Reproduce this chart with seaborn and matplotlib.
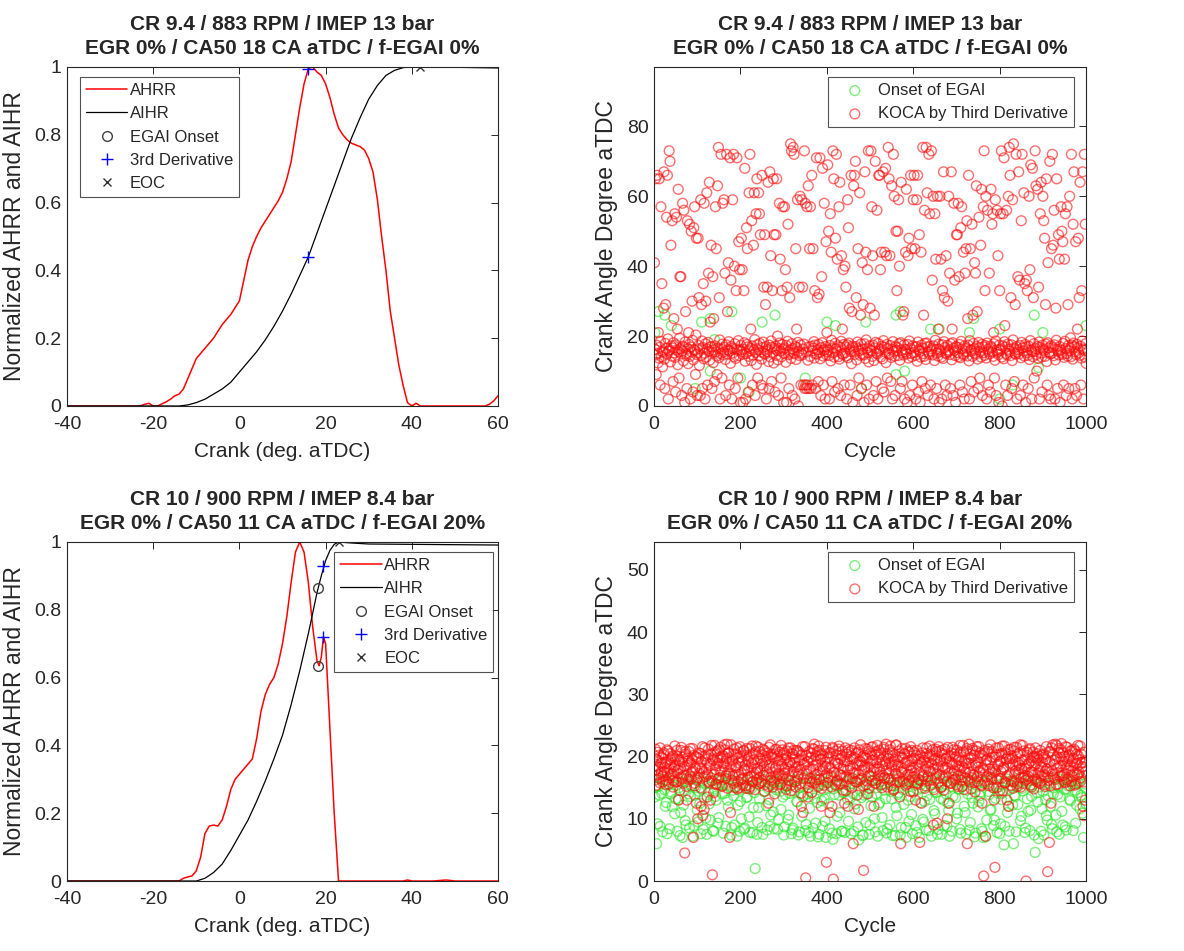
import matplotlib
matplotlib.use("Agg")
import matplotlib.pyplot as plt
import numpy as np
import seaborn as sns

sns.set_style("white")
plt.rcParams["font.family"] = ["Liberation Sans", "DejaVu Sans"]
plt.rcParams["axes.unicode_minus"] = False
plt.rcParams["text.color"] = "0.15"
plt.rcParams["axes.labelcolor"] = "0.15"
plt.rcParams["xtick.color"] = "0.15"
plt.rcParams["ytick.color"] = "0.15"

# ---------------- top-left: heat release curves (case 1) ----------------
ahrr1_x = [-40, -23, -22, -21, -20, -19, -18, -17, -16, -15, -14, -13, -12, -11, -10, -9, -8, -7, -6, -5,
           -4, -3, -2, -1, 0, 1, 2, 3, 4, 5, 6, 7, 8, 9, 10, 11, 12, 13, 14, 15, 16, 17, 18, 19, 20,
           21, 22, 23, 24, 25, 26, 27, 28, 29, 30, 31, 32, 33, 34, 35, 36, 37, 38, 39, 40, 41, 42, 43,
           57, 58, 59, 60]
ahrr1_y = [0, 0, 0.005, 0.008, 0.0, 0.0, 0.006, 0.012, 0.02, 0.03, 0.035, 0.05, 0.08, 0.11, 0.14,
           0.155, 0.17, 0.185, 0.2, 0.22, 0.24, 0.255, 0.27, 0.29, 0.31, 0.37, 0.43, 0.47, 0.5, 0.525,
           0.545, 0.565, 0.585, 0.605, 0.63, 0.67, 0.72, 0.8, 0.88, 0.95, 0.995, 1.0, 0.985, 0.975, 0.95,
           0.91, 0.86, 0.82, 0.8, 0.785, 0.775, 0.77, 0.765, 0.755, 0.73, 0.69, 0.61, 0.5, 0.4, 0.28,
           0.2, 0.12, 0.06, 0.01, 0.0, 0.008, 0.0, 0.0, 0.0, 0.005, 0.015, 0.03]
aihr1_x = [-40, -14, -12, -10, -8, -6, -4, -2, 0, 2, 4, 6, 8, 10, 12, 14, 16, 18, 20, 22, 24, 26, 28,
           30, 32, 34, 36, 38, 40, 45, 50, 55, 60]
aihr1_y = [0, 0, 0.003, 0.01, 0.02, 0.035, 0.05, 0.07, 0.1, 0.13, 0.16, 0.195, 0.235, 0.28, 0.33,
           0.385, 0.44, 0.51, 0.58, 0.65, 0.72, 0.79, 0.85, 0.905, 0.945, 0.975, 0.99, 0.998, 1.0,
           1.0, 0.999, 0.998, 0.997]
onset1_x, onset1_y = [], []
deriv1_x, deriv1_y = [16, 16], [0.995, 0.44]
eoc1_x, eoc1_y = [42], [1.0]

# ---------------- bottom-left: heat release curves (case 2) ----------------
ahrr2_x = [-40, -14, -13, -12, -11, -10, -9, -8, -7, -6, -5, -4, -3, -2, -1, 0, 1, 2, 3, 4, 5, 6, 7,
           8, 9, 10, 11, 12, 13, 14, 15, 16, 17, 18, 18.5, 19, 19.5, 20, 21, 22, 23, 38, 39, 40, 45,
           48, 50, 60]
ahrr2_y = [0, 0, 0.008, 0.012, 0.015, 0.03, 0.07, 0.14, 0.162, 0.165, 0.162, 0.18, 0.22, 0.27, 0.3,
           0.315, 0.33, 0.345, 0.36, 0.42, 0.5, 0.55, 0.58, 0.6, 0.64, 0.7, 0.78, 0.88, 0.97, 1.0,
           0.97, 0.88, 0.75, 0.65, 0.635, 0.66, 0.72, 0.7, 0.45, 0.2, 0.0, 0.0, 0.003, 0.0, 0.0,
           0.003, 0.0, 0.0]
aihr2_x = [-40, -10, -8, -6, -4, -2, 0, 2, 4, 6, 8, 10, 12, 14, 16, 18, 19, 20, 21, 22, 23, 26, 30,
           40, 50, 60]
aihr2_y = [0, 0, 0.008, 0.025, 0.05, 0.09, 0.135, 0.18, 0.235, 0.295, 0.36, 0.43, 0.52, 0.62, 0.73,
           0.85, 0.9, 0.945, 0.975, 0.993, 1.0, 0.997, 0.994, 0.993, 0.992, 0.991]
onset2_x, onset2_y = [18.2, 18.2], [0.865, 0.635]
deriv2_x, deriv2_y = [19.5, 19.5], [0.93, 0.72]
eoc2_x, eoc2_y = [23.2], [1.0]

# ---------------- top-right: KOCA per cycle (case 1), cycles 1..1000 ----------------
koca1 = [41, 16.2, 65, 14.6, 9, 17.4, 66, 15.1, 12.3, 21, 13.7, 65, 16.8, 6, 18.5, 57, 14.1, 35, 15.6, 11.2,
         15.3, 28, 67, 13.4, 5, 17.9, 29, 16.5, 54, 14.8, 66, 19.2, 2, 15.7, 73, 16.1, 70, 12.6, 46, 17.2,
         14.3, 53, 16.6, 7, 18.1, 25, 15.2, 55, 13.9, 4, 17.5, 54, 16.0, 22, 11.8, 62, 15.5, 8, 19.4, 37,
         16.4, 37, 14.9, 3, 15.8, 58, 17.1, 12.9, 56, 16.7, 1, 18.3, 27, 15.0, 14.4, 5, 53, 16.3, 12.1, 21,
         17.6, 52, 14.2, 2, 16.9, 50, 15.4, 30, 18.8, 4, 13.2, 51, 16.1, 57, 15.9, 9, 20.3, 48, 14.7, 3,
         15.2, 48, 17.3, 31, 11.6, 16.4, 3, 59, 14.5, 29, 18.6, 5, 16.7, 35, 13.5, 58, 15.1, 2, 17.8, 30,
         14.0, 61, 16.3, 6, 18.2, 38, 15.7, 64, 13.1, 24, 17.0, 46, 16.9, 5, 15.3, 37, 12.4, 25, 16.0, 7,
         17.2, 57, 15.5, 45, 14.3, 9, 63, 16.6, 74, 13.8, 31, 18.9, 2, 15.0, 72, 16.2, 8, 17.7, 58, 14.6,
         15.4, 59, 16.8, 38, 13.3, 3, 17.5, 72, 14.9, 27, 16.1, 41, 18.4, 6, 15.8, 71, 12.2, 36, 17.0, 2,
         16.5, 59, 15.2, 72, 14.1, 40, 17.8, 5, 13.6, 33, 16.3, 71, 15.9, 8, 18.7, 47, 14.4, 39, 16.0, 1,
         17.3, 48, 15.6, 39, 14.8, 1, 16.2, 33, 18.1, 68, 12.8, 2, 15.0, 51, 17.6, 45, 16.9, 4, 14.2, 61,
         15.8, 72, 16.4, 22, 13.0, 53, 17.2, 6, 14.6, 46, 16.0, 61, 19.0, 3, 15.3, 55, 11.9, 65, 17.5, 8,
         16.1, 61, 14.3, 55, 17.9, 49, 15.5, 6, 13.4, 66, 16.7, 5, 18.3, 34, 15.1, 49, 14.8, 29, 17.0, 2,
         15.6, 34, 16.2, 64, 12.7, 5, 17.4, 67, 14.0, 43, 18.6, 7, 16.8, 33, 15.3, 65, 12.3, 49, 16.5, 4,
         17.1, 49, 14.5, 65, 15.9, 20, 13.2, 3, 16.4, 58, 18.0, 42, 15.7, 8, 14.1, 33, 17.6, 57, 16.3, 1,
         15.0, 57, 16.6, 39, 12.5, 17.3, 1, 34, 18.5, 52, 14.7, 5, 15.4, 31, 16.0, 75, 13.6, 73, 17.8, 3,
         16.4, 74, 15.2, 72, 14.9, 2, 17.0, 45, 13.3, 22, 16.7, 59, 18.2, 0, 15.6, 34, 14.4, 60, 17.5, 6,
         15.1, 59, 14.6, 34, 16.3, 6, 17.7, 73, 5, 58, 6, 15.4, 5, 57, 6, 13.1, 63, 16.9, 5, 45,
         14.2, 57, 5, 17.1, 66, 6, 15.8, 45, 16.5, 18.4, 13.7, 33, 17.4, 5, 15.0, 71, 14.8, 31, 16.1, 7,
         17.6, 32, 15.3, 71, 13.5, 3, 16.7, 37, 18.1, 68, 14.3, 6, 15.9, 58, 16.2, 2, 17.0, 47, 14.6, 21,
         15.5, 69, 16.0, 50, 14.4, 2, 17.3, 55, 12.9, 44, 18.8, 7, 16.6, 73, 15.2, 65, 14.0, 4, 17.9, 48,
         16.3, 72, 15.7, 42, 17.2, 5, 14.1, 57, 13.4, 64, 16.8, 3, 18.5, 43, 15.0, 22, 14.7, 39, 17.6, 6,
         15.2, 40, 16.9, 34, 14.3, 2, 17.5, 59, 13.8, 51, 18.0, 28, 16.1, 6, 15.6, 66, 12.1, 27, 17.1, 1,
         16.7, 63, 15.4, 66, 14.8, 70, 17.0, 31, 13.2, 3, 18.3, 45, 16.4, 8, 15.9, 61, 14.5, 26, 17.7, 5,
         15.0, 41, 16.2, 29, 14.6, 1, 17.8, 67, 13.6, 44, 18.9, 6, 16.5, 39, 15.3, 73, 12.6, 2, 17.2, 28,
         16.0, 73, 15.8, 57, 14.2, 43, 17.4, 3, 13.0, 26, 16.6, 70, 18.2, 7, 15.1, 56, 14.9, 2, 17.9, 66,
         15.7, 66, 16.3, 39, 14.0, 44, 17.1, 5, 13.5, 67, 18.7, 4, 16.8, 44, 15.4, 68, 12.4, 43, 17.6, 8,
         16.5, 74, 15.1, 65, 14.7, 43, 17.3, 7, 13.9, 63, 16.2, 2, 18.4, 72, 15.6, 60, 14.3, 3, 17.0, 50,
         15.9, 33, 16.7, 50, 14.4, 59, 17.8, 40, 13.1, 5, 18.1, 64, 16.0, 7, 15.2, 26, 14.6, 27, 17.5, 2,
         16.2, 44, 15.5, 62, 14.9, 1, 17.6, 43, 13.7, 48, 18.6, 3, 16.4, 66, 15.0, 45, 14.1, 6, 17.2, 59,
         15.3, 66, 16.8, 45, 14.5, 2, 17.0, 59, 12.8, 66, 18.3, 4, 16.1, 49, 15.7, 1, 14.0, 44, 17.4, 7,
         16.6, 74, 15.0, 26, 14.2, 56, 17.9, 5, 13.3, 74, 18.0, 61, 16.9, 3, 15.4, 72, 14.8, 55, 17.1, 6,
         15.8, 73, 16.4, 36, 14.6, 60, 17.2, 2, 13.0, 55, 18.8, 42, 16.2, 5, 15.1, 60, 14.3, 22, 17.7, 1,
         16.1, 60, 15.6, 42, 14.0, 2, 17.5, 33, 13.6, 67, 18.4, 31, 16.7, 6, 15.2, 43, 14.9, 3, 17.3, 30,
         15.5, 60, 16.0, 38, 14.7, 5, 17.8, 67, 13.2, 22, 18.1, 3, 16.5, 58, 15.9, 36, 14.4, 1, 17.0, 49,
         16.8, 49, 15.3, 58, 14.1, 37, 17.6, 6, 13.8, 51, 18.5, 57, 16.3, 4, 15.0, 44, 14.6, 2, 17.2, 38,
         15.6, 45, 16.6, 53, 14.3, 25, 17.4, 66, 12.9, 2, 18.7, 45, 16.0, 7, 15.8, 52, 14.2, 26, 17.9, 4,
         16.4, 41, 15.1, 38, 14.8, 63, 17.0, 27, 13.4, 5, 18.2, 54, 16.7, 8, 15.5, 46, 14.0, 62, 17.6, 3,
         15.2, 57, 16.9, 73, 14.5, 33, 17.3, 60, 13.7, 2, 18.0, 56, 16.2, 6, 15.6, 38, 14.9, 4, 17.1, 62,
         16.7, 52, 15.4, 55, 14.2, 21, 17.8, 8, 13.1, 59, 18.6, 3, 16.0, 56, 15.3, 43, 14.7, 1, 17.4, 33,
         15.9, 55, 16.3, 73, 14.0, 0, 17.2, 55, 13.5, 71, 18.4, 23, 16.8, 6, 15.0, 56, 14.6, 3, 17.7, 60,
         16.2, 74, 15.7, 66, 14.4, 31, 17.5, 5, 13.0, 59, 18.9, 75, 16.5, 7, 15.1, 29, 14.8, 72, 17.0, 2,
         15.4, 37, 16.1, 67, 14.9, 36, 17.3, 3, 13.8, 53, 18.2, 72, 16.6, 6, 15.8, 61, 14.3, 35, 17.6, 1,
         16.9, 36, 15.2, 33, 14.5, 5, 17.1, 60, 13.3, 39, 18.7, 69, 16.0, 2, 15.5, 68, 14.1, 31, 17.8, 8,
         15.6, 73, 16.4, 63, 14.7, 10, 17.0, 62, 13.6, 34, 18.3, 2, 16.8, 55, 15.2, 64, 14.0, 4, 17.4, 60,
         16.3, 53, 15.9, 48, 14.2, 29, 17.7, 65, 12.7, 6, 18.1, 41, 16.6, 3, 15.4, 70, 14.9, 2, 17.2, 45,
         15.1, 72, 16.7, 46, 14.4, 56, 17.5, 2, 13.2, 28, 18.8, 65, 16.2, 5, 15.7, 49, 14.6, 42, 17.0, 1,
         16.0, 57, 15.3, 50, 14.8, 47, 17.9, 6, 13.9, 42, 18.5, 55, 16.4, 3, 15.0, 57, 14.3, 29, 17.3, 5,
         15.8, 60, 16.5, 19.5, 14.1, 72, 17.4, 2, 13.4, 52, 18.0, 67, 16.9, 5, 15.5, 47, 14.7, 3, 17.6, 22,
         16.6, 48, 15.2, 31, 14.5, 64, 17.1, 6, 13.7, 33, 18.6, 67, 16.3, 2, 15.9, 72, 14.0, 52, 17.8, 12.2]
# EGAI onset coincides with KOCA for most cycles; only the visible ones are listed
onset1_cyc = [2, 10, 25, 40, 95, 110, 130, 130, 140, 180, 200, 220, 250, 280, 350, 400, 420, 480,
              490, 560, 560, 570, 580, 640, 660, 730, 740, 800, 800, 830, 880, 890, 900, 1000]
onset1_val = [21, 27, 26, 23, 5, 24, 25, 10, 19, 27, 8, 4, 24, 26, 8, 24, 23, 5,
              24, 26, 9, 27, 10, 22, 22, 21, 25, 22, 2, 6, 26, 11, 21, 23]

# ---------------- bottom-right: KOCA per cycle (case 2) ----------------
koca2_odd = [18.5, 21.2, 16.3, 19.4, 17.1, 20.2, 15.8, 18.9, 17.6, 19.8,
             16.9, 20.6, 18.2, 15.5, 19.1, 17.4, 20.9, 16.6, 18.7, 19.5,
             17.2, 20.1, 16.1, 18.4, 19.6, 15.9, 21.0, 17.8, 13.0, 19.2,
             18.1, 21.5, 16.4, 19.9, 17.0, 4.5, 20.4, 15.2, 18.6, 19.3,
             20.8, 16.8, 19.0, 17.5, 21.3, 7.0, 15.7, 18.3, 20.0, 16.2,
             10.0, 19.7, 17.3, 20.5, 12.0, 18.0, 10.5, 16.7, 21.4, 19.6,
             17.9, 13.5, 20.3, 16.0, 18.8, 13.0, 21.8, 1.0, 19.4, 17.2,
             20.7, 15.6, 18.5, 19.8, 16.4, 21.1, 17.7, 19.9, 15.3, 20.2,
             18.9, 21.9, 16.5, 19.3, 22.0, 17.6, 20.6, 7.0, 11.0, 18.4,
             19.5, 16.9, 21.2, 15.0, 18.2, 20.4, 14.8, 19.0, 17.1, 21.6,
             16.3, 19.8, 15.4, 20.9, 17.8, 18.6, 14.9, 21.3, 16.7, 19.2,
             20.1, 15.2, 18.3, 21.7, 16.0, 19.5, 14.7, 20.8, 17.4, 18.0,
             21.5, 16.6, 19.7, 15.8, 20.3, 18.9, 17.0, 21.0, 15.5, 19.4,
             17.6, 20.6, 12.5, 18.7, 21.9, 16.2, 19.9, 15.1, 20.4, 14.0,
             18.1, 21.2, 16.8, 19.3, 17.3, 20.7, 15.6, 18.5, 21.1, 16.4,
             19.6, 17.9, 20.2, 15.3, 18.8, 21.4, 16.9, 19.1, 14.5, 20.5,
             17.5, 21.0, 15.9, 19.8, 18.3, 16.1, 20.9, 17.2, 19.4, 15.7,
             12.0, 20.3, 11.0, 18.6, 21.6, 0.5, 17.7, 19.2, 15.0, 20.8,
             16.5, 19.9, 14.2, 21.3, 18.0, 22.0, 15.8, 20.1, 17.1, 18.7,
             21.7, 16.3, 19.5, 12.0, 20.4, 17.9, 15.4, 21.0, 18.4, 3.0,
             19.7, 16.7, 20.6, 11.0, 18.2, 15.1, 21.5, 0.3, 17.4, 19.0,
             20.9, 16.0, 18.9, 21.2, 15.6, 19.6, 17.0, 20.2, 14.6, 18.5,
             12.5, 21.4, 16.8, 19.3, 12.0, 20.7, 15.2, 18.1, 21.0, 16.5,
             6.0, 19.8, 17.3, 20.5, 15.9, 18.6, 11.5, 21.1, 16.2, 19.1,
             17.8, 20.0, 1.7, 18.3, 21.3, 15.5, 19.6, 14.0, 20.8, 17.0,
             18.8, 21.5, 16.1, 19.4, 12.0, 20.3, 15.7, 18.0, 21.8, 16.9,
             19.9, 17.5, 20.6, 15.0, 18.5, 21.2, 16.6, 19.2, 22.0, 17.8,
             20.4, 16.4, 19.0, 21.7, 15.3, 18.7, 20.1, 14.8, 19.5, 17.2,
             21.9, 15.9, 18.4, 20.9, 13.5, 6.0, 17.6, 19.8, 16.0, 20.5,
             18.9, 21.3, 15.6, 19.3, 17.1, 20.7, 14.4, 18.2, 21.0, 16.7,
             19.7, 17.4, 13.0, 20.2, 15.8, 18.6, 16.3, 6.2, 19.1, 12.5,
             20.6, 16.8, 19.4, 14.9, 18.0, 21.4, 16.1, 19.9, 17.7, 20.3,
             15.4, 18.8, 21.1, 9.0, 19.6, 16.5, 20.8, 9.3, 18.3, 21.6,
             17.0, 19.2, 15.1, 20.5, 18.5, 14.6, 21.2, 16.9, 19.7, 10.0,
             18.1, 12.5, 20.1, 15.7, 19.0, 21.5, 17.3, 20.4, 16.4, 18.7,
             21.0, 15.2, 19.5, 17.8, 20.7, 16.2, 18.4, 21.8, 14.7, 19.3,
             17.5, 20.9, 6.0, 18.9, 22.0, 15.9, 19.8, 16.6, 21.3, 17.1,
             20.2, 14.3, 18.6, 21.6, 16.0, 19.1, 17.7, 20.6, 15.5, 12.5,
             18.2, 0.8, 21.0, 7.2, 19.4, 16.8, 20.8, 15.3, 18.0, 21.9,
             16.3, 19.9, 17.4, 13.0, 2.2, 20.3, 15.0, 18.7, 21.4, 16.5,
             19.2, 17.6, 20.5, 14.5, 18.3, 21.7, 15.8, 19.6, 13.0, 20.0,
             12.0, 18.9, 21.2, 16.1, 19.7, 14.9, 20.9, 17.2, 18.5, 21.5,
             15.6, 19.0, 17.9, 20.6, 15.1, 18.1, 21.8, 16.7, 19.5, 17.0,
             0.0, 20.2, 16.4, 18.8, 21.1, 15.4, 19.3, 17.5, 20.7, 14.8,
             18.6, 21.4, 16.0, 19.8, 17.3, 20.1, 15.7, 18.4, 16.9, 19.1,
             20.4, 17.1, 15.2, 19.6, 18.0, 1.5, 16.2, 6.2, 20.8, 12.5,
             17.7, 21.9, 16.6, 19.4, 22.0, 15.5, 20.0, 18.2, 21.3, 16.8,
             19.9, 22.1, 17.4, 20.6, 15.9, 18.7, 21.6, 16.3, 19.2, 17.8,
             20.3, 15.3, 18.5, 21.0, 16.8, 19.7, 17.1, 20.9, 15.6, 18.9,
             21.8, 17.2, 19.5, 16.0, 20.4, 18.3, 12.0, 10.5, 19.0, 17.6]
koca2_even = [17.8, 19.6, 15.4, 20.7, 18.3, 16.5, 21.4, 17.2, 19.0, 15.9,
              20.3, 17.5, 18.8, 16.2, 21.1, 19.3, 15.6, 18.0, 20.5, 16.9,
              19.8, 15.1, 17.6, 21.7, 18.6, 16.0, 20.0, 17.3, 19.4, 14.6,
              21.0, 16.7, 19.1, 15.7, 18.4, 20.8, 17.0, 13.0, 19.7, 16.3,
              18.7, 21.3, 16.4, 19.5, 17.7, 20.2, 15.3, 18.1, 12.5, 19.9,
              16.6, 20.6, 18.2, 15.0, 19.2, 21.6, 17.4, 11.5, 20.1, 16.8,
              19.0, 17.1, 21.2, 15.8, 18.5, 20.4, 16.1, 19.6, 14.2, 21.8,
              17.9, 15.5, 20.9, 18.9, 16.6, 19.4, 21.5, 17.6, 15.2, 20.0,
              18.4, 21.1, 16.9, 19.7, 14.9, 20.6, 17.3, 18.7, 21.9, 16.2,
              19.3, 15.7, 20.3, 17.0, 18.6, 21.4, 16.0, 19.8, 15.0, 20.7,
              17.4, 19.1, 16.5, 21.0, 18.0, 15.3, 20.2, 17.8, 19.5, 14.8,
              21.3, 16.8, 18.9, 15.9, 20.5, 17.2, 19.0, 21.7, 16.3, 18.2,
              15.6, 20.8, 17.7, 19.3, 16.1, 21.2, 18.5, 14.4, 20.0, 17.0,
              19.6, 15.2, 21.5, 18.1, 16.7, 20.3, 17.5, 19.9, 15.8, 21.1,
              18.3, 16.4, 20.1, 17.1, 19.4, 15.5, 21.8, 18.8, 16.9, 20.6,
              17.3, 19.7, 14.7, 20.9, 18.0, 16.2, 19.2, 21.4, 15.4, 18.6,
              20.4, 17.6, 19.0, 15.1, 21.0, 16.8, 18.4, 20.7, 17.9, 14.1,
              19.5, 21.6, 16.5, 18.9, 15.7, 20.2, 17.2, 13.5, 19.8, 16.0,
              18.1, 20.5, 15.9, 19.3, 21.2, 17.0, 18.7, 16.3, 20.8, 15.2,
              21.0, 17.7, 19.6, 14.9, 18.4, 20.1, 16.6, 19.1, 21.5, 17.3,
              15.8, 19.9, 18.2, 20.6, 16.9, 12.0, 21.3, 17.5, 19.4, 15.4,
              20.3, 16.2, 18.8, 21.7, 17.1, 19.7, 15.6, 20.9, 18.0, 16.7,
              19.2, 14.5, 20.4, 17.8, 21.1, 16.4, 18.5, 20.0, 15.0, 19.6,
              17.4, 21.4, 16.0, 18.9, 13.8, 20.7, 17.2, 19.3, 21.9, 16.5,
              18.6, 15.3, 20.2, 17.9, 19.8, 16.1, 21.2, 18.3, 14.9, 20.5,
              16.8, 19.4, 21.6, 17.6, 18.2, 15.7, 20.8, 19.0, 16.3, 21.0,
              18.0, 20.3, 15.5, 19.5, 17.0, 21.5, 16.6, 18.8, 20.1, 15.1,
              19.7, 17.3, 21.1, 16.2, 18.4, 20.6, 14.6, 19.2, 17.8, 21.8,
              16.9, 18.7, 20.0, 15.9, 19.9, 17.5, 21.3, 16.4, 18.1, 20.4,
              15.4, 19.1, 17.1, 20.9, 16.0, 18.6, 21.6, 17.7, 19.3, 14.3,
              20.7, 16.7, 18.3, 21.0, 15.6, 19.6, 17.4, 20.2, 16.1, 18.9,
              21.4, 17.0, 19.8, 15.3, 18.5, 20.5, 16.8, 19.0, 21.7, 17.6,
              16.3, 20.1, 18.0, 14.7, 19.4, 21.2, 17.2, 18.7, 15.8, 20.8,
              19.5, 15.0, 21.0, 17.9, 16.5, 20.3, 18.2, 19.7, 16.0, 21.5,
              17.3, 19.2, 15.7, 20.6, 18.8, 16.2, 21.1, 17.7, 19.9, 15.5,
              20.0, 16.9, 18.4, 21.8, 17.1, 19.3, 15.2, 20.7, 18.1, 16.6,
              18.9, 21.3, 16.4, 19.6, 17.5, 20.4, 14.8, 18.6, 21.0, 17.0,
              15.9, 19.0, 20.9, 16.8, 18.3, 21.6, 17.4, 19.8, 15.3, 20.2,
              17.8, 20.5, 16.1, 18.7, 19.5, 15.6, 21.2, 17.2, 19.1, 16.7,
              20.8, 18.0, 15.0, 19.9, 17.6, 21.4, 16.3, 18.5, 20.3, 14.5,
              19.3, 16.5, 21.7, 17.9, 18.2, 15.8, 20.6, 19.6, 16.9, 21.1,
              17.1, 19.7, 15.4, 20.1, 18.8, 16.0, 21.5, 17.7, 19.2, 15.2,
              20.4, 17.3, 18.6, 21.9, 16.6, 19.4, 15.7, 20.9, 18.1, 16.2,
              18.4, 20.7, 16.8, 19.0, 21.3, 17.5, 15.1, 19.8, 17.0, 20.0,
              16.4, 18.9, 20.5, 15.9, 19.5, 17.8, 21.0, 16.1, 18.3, 20.2,
              19.9, 15.5, 17.6, 21.6, 18.0, 16.7, 20.8, 19.1, 15.3, 21.4,
              17.2, 20.3, 18.7, 16.3, 19.6, 21.8, 17.4, 15.6, 20.6, 18.5,
              21.1, 16.9, 19.3, 17.0, 20.0, 15.8, 18.2, 21.5, 16.5, 19.7,
              18.6, 20.9, 16.0, 19.2, 17.7, 21.2, 15.4, 18.9, 20.4, 17.1,
              20.1, 17.5, 21.7, 16.6, 19.0, 18.4, 15.9, 20.7, 13.0, 19.4]
# EGAI onset (case 2), two interleaved halves of the cycle record
onset2_a = [13.5, 6.0, 15.2, 8.8, 14.1, 16.3, 12.0, 7.6, 15.5, 14.0,
            12.0, 16.8, 13.2, 8.0, 15.0, 11.0, 7.0, 14.5, 9.0, 16.0,
            8.5, 15.3, 7.2, 13.8, 16.5, 9.5, 12.5, 14.8, 8.3, 15.7,
            7.5, 14.2, 9.8, 16.1, 8.0, 13.6, 15.4, 10.2, 16.6, 14.0,
            15.8, 8.8, 13.0, 16.4, 7.4, 14.6, 9.0, 15.1, 12.2, 8.0,
            10.0, 15.6, 8.5, 13.4, 16.2, 7.8, 14.9, 11.8, 2.0, 7.5,
            11.8, 15.3, 8.6, 14.4, 16.8, 8.2, 13.1, 10.6, 15.9, 8.4,
            14.7, 8.3, 16.0, 11.5, 13.5, 8.7, 15.2, 9.9, 14.1, 7.6,
            8.5, 16.3, 12.8, 7.4, 15.0, 10.4, 13.7, 8.1, 16.4, 7.8,
            7.2, 14.3, 16.1, 9.3, 12.6, 7.5, 15.5, 8.8, 13.2, 7.0,
            14.9, 8.4, 16.6, 6.7, 13.9, 7.6, 15.3, 11.0, 8.0, 14.2,
            7.8, 16.0, 9.6, 13.3, 15.7, 8.0, 12.4, 16.4, 6.6, 14.5,
            7.3, 13.8, 9.4, 15.9, 7.5, 12.1, 16.2, 10.0, 14.0, 7.2,
            12.6, 15.4, 8.1, 14.6, 7.7, 16.5, 9.0, 13.2, 15.8, 7.3,
            10.5, 14.2, 7.4, 16.0, 12.3, 8.6, 15.1, 9.6, 13.6, 7.6,
            16.3, 8.9, 14.7, 7.0, 15.5, 9.9, 12.8, 8.2, 16.6, 13.1,
            7.2, 15.0, 10.8, 14.3, 8.3, 16.1, 7.5, 13.0, 15.6, 8.8,
            11.3, 15.2, 8.0, 16.7, 13.4, 10.9, 14.8, 7.7, 15.9, 12.0,
            7.6, 14.0, 8.2, 16.2, 12.5, 7.1, 15.4, 11.9, 13.7, 8.4,
            7.0, 15.8, 9.8, 14.4, 11.4, 16.4, 8.9, 13.3, 7.8, 15.1,
            9.2, 14.1, 5.8, 16.0, 11.0, 8.0, 15.3, 12.2, 13.8, 7.9,
            12.3, 16.6, 10.4, 14.5, 7.8, 15.5, 11.2, 8.1, 13.6, 16.2,
            4.6, 14.2, 6.8, 15.7, 11.6, 7.4, 13.1, 9.8, 16.1, 12.0,
            8.4, 15.0, 10.6, 13.9, 7.5, 16.4, 9.0, 14.7, 8.2, 15.3,
            13.1, 16.0, 8.1, 14.6, 12.2, 15.8, 11.6, 13.4, 7.0, 15.0]
onset2_b = [15.1, 9.2, 13.8, 16.4, 7.9, 14.7, 12.6, 16.0, 8.4, 14.3,
            16.2, 10.8, 15.4, 13.1, 7.3, 15.9, 12.2, 9.7, 16.5, 14.0,
            13.6, 16.7, 8.9, 15.0, 11.4, 14.4, 7.6, 16.1, 13.3, 10.1,
            15.7, 12.4, 16.6, 8.1, 14.8, 13.0, 9.3, 15.5, 16.3, 7.7,
            14.1, 16.9, 11.9, 15.2, 8.6, 13.7, 16.0, 7.2, 14.6, 12.8,
            16.4, 8.3, 15.3, 13.5, 10.3, 16.8, 7.8, 14.2, 15.9, 9.4,
            13.2, 15.8, 7.5, 16.3, 12.1, 14.9, 8.8, 15.6, 11.1, 16.1,
            15.0, 9.9, 14.4, 16.6, 7.4, 13.9, 15.7, 10.6, 16.2, 8.2,
            14.5, 16.0, 12.7, 7.9, 15.4, 13.6, 16.7, 9.1, 14.0, 11.7,
            16.5, 8.5, 13.3, 15.1, 7.1, 16.4, 12.9, 14.6, 9.6, 15.8,
            12.4, 16.2, 7.7, 14.8, 15.6, 10.4, 13.8, 16.9, 8.0, 14.3,
            15.5, 13.1, 16.6, 7.6, 14.1, 11.6, 15.9, 8.7, 16.3, 13.4,
            7.4, 15.2, 14.0, 16.8, 9.0, 13.5, 16.1, 7.9, 15.0, 12.3,
            16.0, 10.2, 15.6, 13.2, 8.4, 16.5, 14.4, 7.3, 15.3, 11.8,
            13.9, 16.7, 8.6, 14.7, 15.8, 7.0, 13.0, 16.2, 10.7, 14.5,
            15.4, 7.8, 16.4, 12.6, 14.9, 9.5, 16.0, 13.7, 8.1, 15.7,
            16.6, 11.3, 14.2, 7.5, 15.5, 13.3, 16.8, 8.9, 14.0, 12.5,
            7.2, 15.9, 13.6, 16.3, 10.0, 14.8, 8.3, 15.1, 16.7, 11.0,
            14.6, 16.1, 9.4, 13.4, 15.7, 7.7, 16.5, 12.8, 14.3, 8.0,
            15.8, 7.1, 16.2, 13.9, 11.5, 15.0, 9.8, 16.9, 14.1, 7.6,
            13.1, 15.6, 8.8, 16.4, 12.0, 14.7, 15.9, 6.0, 13.6, 16.0,
            15.3, 9.7, 14.9, 16.6, 8.5, 13.2, 16.1, 11.4, 15.4, 7.4,
            16.3, 12.7, 15.1, 8.0, 14.4, 16.8, 10.5, 13.7, 15.7, 9.1,
            14.0, 16.5, 7.9, 15.2, 13.5, 11.2, 16.2, 8.7, 14.8, 16.0,
            12.9, 15.5, 16.7, 9.3, 14.2, 16.4, 13.8, 10.9, 15.6, 12.4]

title1 = "CR 9.4 / 883 RPM / IMEP 13 bar\nEGR 0% / CA50 18 CA aTDC / f-EGAI 0%"
title2 = "CR 10 / 900 RPM / IMEP 8.4 bar\nEGR 0% / CA50 11 CA aTDC / f-EGAI 20%"

fig = plt.figure(figsize=(11.84, 9.51), dpi=100)
ax_tl = fig.add_axes([0.0566, 0.5731, 0.3640, 0.3565])
ax_tr = fig.add_axes([0.5524, 0.5731, 0.3649, 0.3565])
ax_bl = fig.add_axes([0.0566, 0.0736, 0.3640, 0.3565])
ax_br = fig.add_axes([0.5524, 0.0736, 0.3649, 0.3565])

green = (0.15, 0.9, 0.15)
red = (1.0, 0.05, 0.05)
leg_kw = dict(fontsize=12, frameon=True, fancybox=False, edgecolor="0.15", handlelength=2.5,
              handletextpad=0.15, borderaxespad=0, labelspacing=0.5, borderpad=0.35)


def style_axes(ax):
    ax.tick_params(direction="in", top=True, right=True, length=5, width=0.7, labelsize=14)
    ax.tick_params(axis="x", pad=7)
    ax.tick_params(axis="y", pad=4)
    for sp in ax.spines.values():
        sp.set_color("0.15")
        sp.set_linewidth(0.8)


def heat_panel(ax, ax_x, ax_y, ai_x, ai_y, on_x, on_y, d_x, d_y, e_x, e_y, title, legend_anchor):
    sns.lineplot(x=ax_x, y=ax_y, ax=ax, color="red", linewidth=1.1, label="AHRR")
    sns.lineplot(x=ai_x, y=ai_y, ax=ax, color="black", linewidth=0.9, label="AIHR")
    ax.plot(on_x, on_y, linestyle="none", marker="o", markersize=7, markerfacecolor="none",
            markeredgecolor="0.25", markeredgewidth=1.0, label="EGAI Onset")
    ax.plot(d_x, d_y, linestyle="none", marker="+", markersize=8, color="blue",
            markeredgewidth=1.0, label="3rd Derivative")
    ax.plot(e_x, e_y, linestyle="none", marker="x", markersize=6, color="0.2",
            markeredgewidth=1.0, label="EOC")
    ax.set_xlim(-40, 60)
    ax.set_ylim(0, 1)
    ax.set_xticks([-40, -20, 0, 20, 40, 60])
    ax.set_yticks([0, 0.2, 0.4, 0.6, 0.8, 1.0])
    ax.set_yticklabels(["0", "0.2", "0.4", "0.6", "0.8", "1"])
    ax.set_xlabel("Crank (deg. aTDC)", fontsize=15, labelpad=7)
    ax.set_ylabel("Normalized AHRR and AIHR", fontsize=16.5, labelpad=6)
    ax.set_title(title, fontsize=15, fontweight="bold", linespacing=1.3, pad=9.5)
    leg = ax.legend(loc="upper left", bbox_to_anchor=legend_anchor, **leg_kw)
    leg.get_frame().set_linewidth(0.8)
    style_axes(ax)


def scatter_panel(ax, on_x, on_y, k_x, k_y, ymax, yticks, title):
    sns.scatterplot(x=on_x, y=on_y, ax=ax, marker="o", s=50, color=green, facecolor="none",
                    edgecolor=green, linewidth=1.0, alpha=0.6, label="Onset of EGAI")
    sns.scatterplot(x=k_x, y=k_y, ax=ax, marker="o", s=50, color=red, facecolor="none",
                    edgecolor=red, linewidth=1.0, alpha=0.6, label="KOCA by Third Derivative")
    ax.set_xlim(0, 1000)
    ax.set_ylim(0, ymax)
    ax.set_xticks([0, 200, 400, 600, 800, 1000])
    ax.set_yticks(yticks)
    ax.set_xlabel("Cycle", fontsize=15, labelpad=7)
    ax.set_ylabel("Crank Angle Degree aTDC", fontsize=16.5, labelpad=6)
    ax.set_title(title, fontsize=15, fontweight="bold", linespacing=1.3, pad=9.5)
    leg = ax.legend(loc="upper right", bbox_to_anchor=(0.972, 0.97), **leg_kw)
    leg.get_frame().set_linewidth(0.8)
    style_axes(ax)


heat_panel(ax_tl, ahrr1_x, ahrr1_y, aihr1_x, aihr1_y, onset1_x, onset1_y, deriv1_x, deriv1_y,
           eoc1_x, eoc1_y, title1, (0.03, 0.97))
heat_panel(ax_bl, ahrr2_x, ahrr2_y, aihr2_x, aihr2_y, onset2_x, onset2_y, deriv2_x, deriv2_y,
           eoc2_x, eoc2_y, title2, (0.62, 0.97))

koca1_cyc = np.linspace(1, 1000, len(koca1))
scatter_panel(ax_tr, onset1_cyc, onset1_val, koca1_cyc, koca1, 97, [0, 20, 40, 60, 80], title1)

koca2_cyc = np.concatenate([1 + 2 * np.arange(len(koca2_odd)), 2 + 2 * np.arange(len(koca2_even))])
koca2 = np.concatenate([koca2_odd, koca2_even])
onset2_cyc = np.concatenate([2 + 4 * np.arange(len(onset2_a)), 4 * np.arange(1, len(onset2_b) + 1)])
onset2_val = np.concatenate([onset2_a, onset2_b])
scatter_panel(ax_br, onset2_cyc, onset2_val, koca2_cyc, koca2, 54.5, [0, 10, 20, 30, 40, 50], title2)

fig.savefig("out.png", dpi=100)
